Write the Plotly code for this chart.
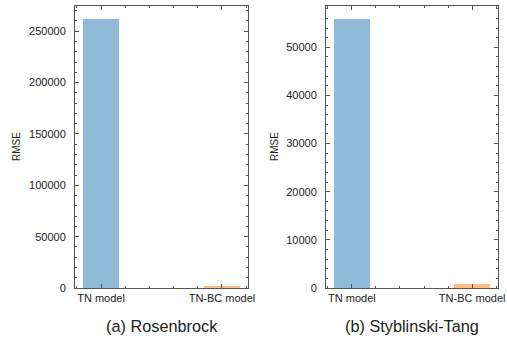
import plotly.graph_objects as go

# RMSE of each model on the two benchmark functions
models = ["TN model", "TN-BC model"]
rosenbrock_rmse = [261500, 2000]
styblinski_rmse = [55800, 850]
panel_titles = ["(a) Rosenbrock", "(b) Styblinski-Tang"]
bar_colors = ["#8fbbd9", "#ffbf86"]

W, H = 507, 344
xpos = [0, 1]

fig = go.Figure()
fig.add_trace(go.Bar(x=xpos, y=rosenbrock_rmse, width=0.3, marker=dict(color=bar_colors, line=dict(width=0)),
                     xaxis="x", yaxis="y", showlegend=False))
fig.add_trace(go.Bar(x=xpos, y=styblinski_rmse, width=0.3, marker=dict(color=bar_colors, line=dict(width=0)),
                     xaxis="x2", yaxis="y2", showlegend=False))

font = dict(family="Liberation Sans, Arial, sans-serif", size=11, color="#222")
frame = dict(showline=True, linecolor="#555", linewidth=1, mirror="allticks", automargin=False,
             ticks="inside", ticklen=4, tickcolor="#555", showgrid=False, zeroline=False,
             tickfont=font, ticklabeloverflow="allow")

def xax(domain):
    return dict(frame, domain=domain, range=[-0.215, 1.215], tickvals=xpos, ticktext=models,
                minor=dict(dtick=0.2, tick0=0, ticks="inside", ticklen=2, tickcolor="#555"))

def yax(domain, top, dtick, mdtick):
    return dict(frame, domain=domain, range=[0, top], dtick=dtick, tickformat="d",
                ticklabelstandoff=6,
                minor=dict(dtick=mdtick, ticks="inside", ticklen=2, tickcolor="#555"))

ydom = [56 / H, 338 / H]
fig.update_layout(
    template="none",
    width=W, height=H, margin=dict(l=0, r=0, t=0, b=0),
    paper_bgcolor="white", plot_bgcolor="white", bargap=0,
    xaxis=dict(xax([75 / W, 248 / W]), anchor="y"),
    yaxis=dict(yax(ydom, max(rosenbrock_rmse) * 1.05, 50000, 10000), anchor="x"),
    xaxis2=dict(xax([326 / W, 498 / W]), anchor="y2"),
    yaxis2=dict(yax(ydom, max(styblinski_rmse) * 1.05, 10000, 2000), anchor="x2"),
)

# y-axis labels
for xc in (16, 274):
    fig.add_annotation(text="RMSE", x=xc / W, y=(H - 147) / H, xref="paper", yref="paper",
                       xanchor="center", yanchor="middle",
                       textangle=-90, showarrow=False, font=dict(font, size=10))

# panel captions
for title, xc in zip(panel_titles, (162, 412)):
    fig.add_annotation(text=title, x=xc / W, y=(H - 326) / H, xref="paper", yref="paper",
                       xanchor="center", yanchor="middle",
                       showarrow=False, font=dict(font, size=16.3))

fig.write_html("out.html")
